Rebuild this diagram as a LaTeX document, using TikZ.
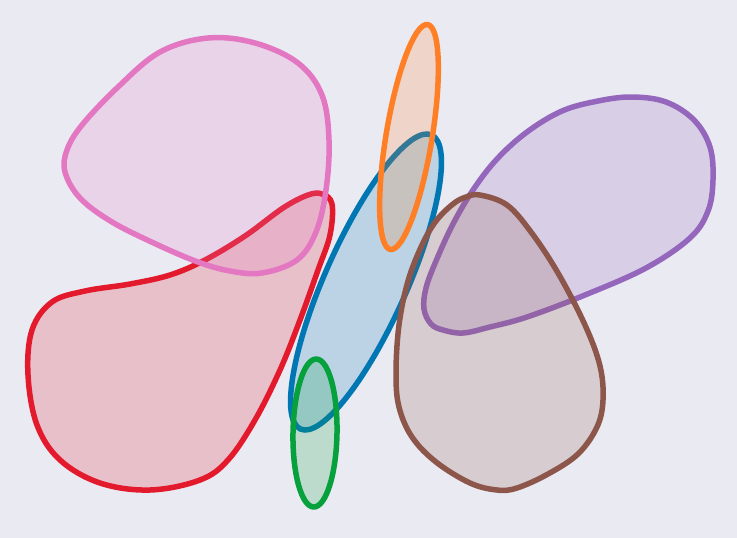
\documentclass[tikz,border=0pt]{standalone}
\usetikzlibrary{calc}
\definecolor{bg}{HTML}{EAEAF2}
\definecolor{cblue}{HTML}{0077B3}
\definecolor{corange}{HTML}{FF7F27}
\definecolor{cgreen}{HTML}{06A03C}
\definecolor{cred}{HTML}{E31A2C}
\definecolor{cpurple}{HTML}{9467BD}
\definecolor{cbrown}{HTML}{8C564B}
\definecolor{cpink}{HTML}{E377C2}
\tikzset{
  setshape/.style={draw=#1, fill=#1, fill opacity=0.2, draw opacity=1, line width=5.5pt, line join=round}
}
\begin{document}
\begin{tikzpicture}[x=1pt,y=-1pt]
\fill[bg] (0,0) rectangle (737,538);
\useasboundingbox (0,0) rectangle (737,538);
% red
\draw[setshape=cred] plot[smooth cycle, tension=0.6] coordinates {
 (322,194) (332,204) (330,235) (318,270) (300,320) (280,370) (255,420) (228,460)
 (200,480) (150,490) (100,483) (60,460) (37,425) (28,375) (32,330) (52,302)
 (85,291) (130,284) (170,275) (205,260) (245,236) (283,208) (308,195)};
% blue
\draw[setshape=cblue] (366,282) ellipse[x radius=161, y radius=41, rotate=66];
% orange
\draw[setshape=corange] (409,137) ellipse[x radius=114, y radius=23, rotate=80.6];
% green
\draw[setshape=cgreen] (315,433) ellipse[x radius=22, y radius=74, rotate=-1];
% purple
\draw[setshape=cpurple] plot[smooth cycle, tension=0.6] coordinates {
 (632,97) (666,102) (694,120) (710,147) (713,180) (708,211) (690,238) (646,268) (585,295)
 (527,317) (490,327) (463,333) (443,330) (431,324) (424,309) (426,288) (436,261)
 (453,224) (473,190) (497,159) (527,132) (562,111) (598,101)};
% brown
\draw[setshape=cbrown] plot[smooth cycle, tension=0.6] coordinates {
 (480,195) (507,205) (531,232) (558,273) (585,325) (600,366) (603,400) (597,427)
 (578,454) (548,474) (517,488) (497,490) (470,483) (436,462) (412,437) (399,407)
 (396,373) (399,325) (408,281) (422,245) (436,221) (453,204) (466,197)};
% pink
\draw[setshape=cpink] plot[smooth cycle, tension=0.6] coordinates {
 (208,38) (255,43) (298,63) (322,95) (329,140) (326,190) (316,232) (297,260)
 (262,273) (230,271) (198,262) (158,245) (112,222) (80,198) (65,172) (67,150)
 (82,125) (118,87) (160,52)};
\end{tikzpicture}
\end{document}
